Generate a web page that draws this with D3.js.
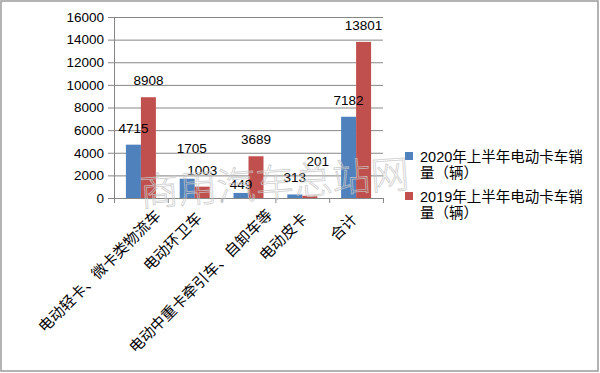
<!DOCTYPE html>
<html>
<head>
<meta charset="utf-8">
<script src="https://cdn.jsdelivr.net/npm/d3@7"></script>
<style>
  html, body { margin: 0; padding: 0; background: #fff; }
  svg { display: block; }
</style>
</head>
<body>
<svg id="chart" width="600" height="373"></svg>
<script>
// ---- data ----
const categories = ["电动轻卡、微卡类物流车", "电动环卫车", "电动中重卡牵引车、自卸车等", "电动皮卡", "合计"];
const sales2020 = [4715, 1705, 449, 313, 7182];
const sales2019 = [8908, 1003, 3689, 201, 13801];
const seriesNames = ["2020年上半年电动卡车销量（辆）", "2019年上半年电动卡车销量（辆）"];
const yTicks = [0, 2000, 4000, 6000, 8000, 10000, 12000, 14000, 16000];
const watermark = "商用汽车总站网";

// ---- style / layout ----
const colors = ["#4F81BD", "#C0504D"];
const gridColor = "#868686";
const numFont = "'Liberation Sans', 'Noto Sans CJK SC', sans-serif";
const cjkFont = "'Liberation Sans', 'Noto Sans CJK SC', sans-serif";
const plot = { left: 114, right: 383, top: 17, bottom: 198 };
// manual label nudges (dx, dy) as in the reference, keyed "series-index"
const labelNudge = { "0-1": [4.5, -14], "0-2": [0, 8], "1-3": [8, -18] };

const svg = d3.select("#chart");

// border
svg.append("rect").attr("x", 1).attr("y", 1).attr("width", 597).attr("height", 370)
  .attr("fill", "#fff").attr("stroke", "#9a9a9a").attr("stroke-width", 1.5);

const y = d3.scaleLinear().domain([0, 16000]).range([plot.bottom, plot.top]);
const x = d3.scaleBand().domain(categories).range([plot.left, plot.right])
  .paddingInner(0.4424).paddingOuter(0.2212);
const x1 = d3.scaleBand().domain([0, 1]).range([0, x.bandwidth()]);

// gridlines
svg.append("g").attr("transform", `translate(${plot.left},0)`)
  .call(d3.axisLeft(y).tickValues(yTicks.slice(1)).tickSize(-(plot.right - plot.left)).tickFormat(""))
  .call(g => g.select(".domain").remove())
  .call(g => g.selectAll("line").attr("stroke", gridColor));

// y axis
svg.append("g").attr("transform", `translate(${plot.left},0)`)
  .call(d3.axisLeft(y).tickValues(yTicks).tickSize(6).tickPadding(4).tickFormat(d3.format("d")))
  .call(g => g.select(".domain").attr("stroke", gridColor))
  .call(g => g.selectAll("line").attr("stroke", gridColor))
  .call(g => g.selectAll("text").attr("font-family", numFont).attr("font-size", "13.5px").attr("fill", "#000"));

// bars
const series = [sales2020, sales2019];
series.forEach((vals, si) => {
  svg.append("g").selectAll("rect").data(vals).join("rect")
    .attr("x", (d, i) => x(categories[i]) + x1(si))
    .attr("y", d => y(d))
    .attr("width", x1.bandwidth())
    .attr("height", d => y(0) - y(d))
    .attr("fill", colors[si]);
});

// x axis (ticks at band boundaries)
const idx = d3.scaleLinear().domain([0, categories.length]).range([plot.left, plot.right]);
svg.append("g").attr("transform", `translate(0,${plot.bottom})`)
  .call(d3.axisBottom(idx).tickValues(d3.range(categories.length + 1)).tickSize(5).tickFormat(""))
  .call(g => g.select(".domain").attr("stroke", gridColor))
  .call(g => g.selectAll("line").attr("stroke", gridColor));

// x labels rotated -45
svg.append("g").selectAll("text").data(categories).join("text")
  .attr("transform", d => {
    const n = d.length;
    const cx = x(d) + x.bandwidth() / 2 + 2.1 * n - 2.5;
    const cy = 221 - 0.4 * n;
    return `translate(${cx},${cy}) rotate(-45)`;
  })
  .attr("text-anchor", "end")
  .attr("font-family", cjkFont).attr("font-size", "15px").attr("fill", "#000")
  .text(d => d);

// data labels
series.forEach((vals, si) => {
  svg.append("g").selectAll("text").data(vals).join("text")
    .attr("x", (d, i) => x(categories[i]) + x1(si) + x1.bandwidth() / 2 + ((labelNudge[si + "-" + i] || [0, 0])[0]))
    .attr("y", (d, i) => y(d) - 12 + ((labelNudge[si + "-" + i] || [0, 0])[1]))
    .attr("text-anchor", "middle")
    .attr("font-family", numFont).attr("font-size", "13.5px").attr("fill", "#000")
    .text(d => d);
});

// legend
const legend = svg.append("g");
seriesNames.forEach((name, si) => {
  const top = 152 + si * 40;
  legend.append("rect").attr("x", 405).attr("y", top).attr("width", 8).attr("height", 8).attr("fill", colors[si]);
  const t = legend.append("text").attr("font-family", cjkFont).attr("font-size", "14.5px").attr("fill", "#000");
  t.append("tspan").attr("x", 420).attr("y", top + 10).text(name.slice(0, 13));
  t.append("tspan").attr("x", 420).attr("y", top + 26).text(name.slice(13));
});

// watermark
svg.append("text")
  .attr("transform", "translate(141,206) rotate(-4)")
  .attr("font-family", "'Noto Sans CJK SC', sans-serif").attr("font-weight", 300)
  .attr("font-size", "38.5px")
  .attr("fill", "none").attr("stroke", "#c8c8c8").attr("stroke-width", 0.8)
  .attr("opacity", 0.85)
  .text(watermark);
</script>
</body>
</html>
